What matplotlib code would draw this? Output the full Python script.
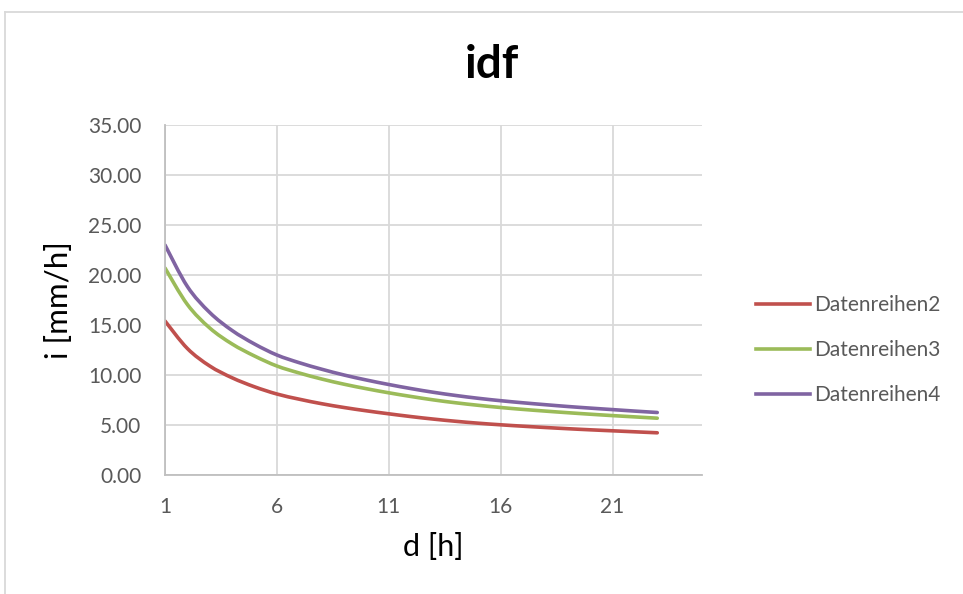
import matplotlib.pyplot as plt
from matplotlib.lines import Line2D
from matplotlib.path import Path
from matplotlib.patches import PathPatch

# durations [h] and intensities [mm/h]
d = list(range(1, 24))
reihe2 = [15.4, 12.65, 10.9, 9.72, 8.82, 8.1, 7.58, 7.13, 6.75, 6.42, 6.12, 5.84,
          5.59, 5.37, 5.18, 5.02, 4.88, 4.75, 4.63, 4.52, 4.42, 4.32, 4.22]
reihe3 = [20.7, 17.05, 14.7, 13.1, 11.9, 10.9, 10.2, 9.6, 9.08, 8.63, 8.22, 7.85,
          7.51, 7.22, 6.97, 6.75, 6.56, 6.39, 6.23, 6.08, 5.94, 5.81, 5.68]
reihe4 = [23.0, 18.85, 16.25, 14.45, 13.1, 12.0, 11.23, 10.58, 10.0, 9.5, 9.05, 8.64,
          8.27, 7.95, 7.67, 7.43, 7.22, 7.03, 6.85, 6.69, 6.54, 6.39, 6.25]
names = ['Datenreihen2', 'Datenreihen3', 'Datenreihen4']
colors = ['#C0504D', '#9BBB59', '#8064A2']
xticks = [1, 6, 11, 16, 21]


def smooth_path(xs, ys):
    # Excel-style smoothed line: bezier segments through the data points
    pts = list(zip(xs, ys))
    verts = [pts[0]]
    codes = [Path.MOVETO]
    n = len(pts)
    for i in range(n - 1):
        p0 = pts[max(i - 1, 0)]
        p1 = pts[i]
        p2 = pts[i + 1]
        p3 = pts[min(i + 2, n - 1)]
        c1 = (p1[0] + (p2[0] - p0[0]) / 6, p1[1] + (p2[1] - p0[1]) / 6)
        c2 = (p2[0] - (p3[0] - p1[0]) / 6, p2[1] - (p3[1] - p1[1]) / 6)
        verts += [c1, c2, p2]
        codes += [Path.CURVE4] * 3
    return Path(verts, codes)


plt.rcParams['font.family'] = ['Lato', 'DejaVu Sans']

fig = plt.figure(figsize=(9.63, 5.94), dpi=100)
ax = fig.add_axes([165 / 963, 1 - 475 / 594, (702 - 165) / 963, (475 - 125) / 594])

handles = []
for ys, name, c in zip([reihe2, reihe3, reihe4], names, colors):
    ax.add_patch(PathPatch(smooth_path(d, ys), fill=False, edgecolor=c, lw=2.6,
                           capstyle='round'))
    handles.append(Line2D([], [], color=c, lw=2.6, label=name))

ax.set_xlim(1, 25)
ax.set_ylim(0, 35)
ax.set_xticks(xticks)
ax.set_yticks(range(0, 36, 5))
ax.set_yticklabels([f'{v:.2f}' for v in range(0, 36, 5)])
ax.grid(True, color='#d9d9d9', lw=1.3)
ax.set_axisbelow(True)
for s in ['top', 'right']:
    ax.spines[s].set_visible(False)
for s in ['left', 'bottom']:
    ax.spines[s].set_color('#bfbfbf')
    ax.spines[s].set_linewidth(1.3)
ax.tick_params(length=0, labelsize=15, labelcolor='#595959')
ax.tick_params(axis='y', pad=17)
ax.tick_params(axis='x', pad=16)

ax.set_xlabel('d [h]', fontsize=22, labelpad=11)
ax.set_ylabel('i [mm/h]', fontsize=22.5, labelpad=11)
fig.text(492 / 963, 1 - 65 / 594, 'idf', fontsize=33, fontweight='bold',
         ha='center', va='center')

leg = ax.legend(handles=handles, loc='center left',
                bbox_to_anchor=(737 / 963, 1 - 350 / 594),
                bbox_transform=fig.transFigure, frameon=False, fontsize=15,
                labelspacing=1.2, handlelength=2.6, handletextpad=0.2)
for t in leg.get_texts():
    t.set_color('#595959')

# chart area border
fig.add_artist(Line2D([5 / 963, 5 / 963], [1 - 12 / 594, 0.0], color='#d9d9d9',
                      lw=1.3, transform=fig.transFigure))
fig.add_artist(Line2D([5 / 963, 1.0], [1 - 12 / 594, 1 - 12 / 594], color='#d9d9d9',
                      lw=1.3, transform=fig.transFigure))

fig.savefig('out.png', dpi=100)
